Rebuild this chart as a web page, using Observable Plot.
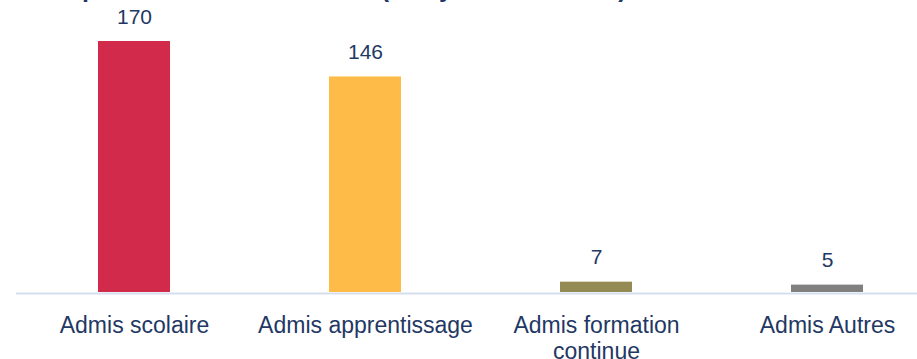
<!DOCTYPE html>
<html>
<head>
<meta charset="utf-8">
<script src="https://cdn.jsdelivr.net/npm/d3@7"></script>
<script src="https://cdn.jsdelivr.net/npm/@observablehq/plot@0.6"></script>
<style>
  html, body { margin: 0; padding: 0; background: #fff; overflow: hidden; }
  #wrap { position: relative; width: 917px; height: 359px; overflow: hidden; font-family: "Liberation Sans", Arial, sans-serif; }
  #title { position: absolute; left: 50px; top: -27px; font-size: 25px; line-height: 30px; font-weight: bold; color: #1f3864; white-space: nowrap; }
  #chart { position: absolute; left: 0; top: 0; }
</style>
</head>
<body>
<div id="wrap">
  <div id="title">Répartition des admis 2023 (analyse des filières)</div>
  <div id="chart"></div>
</div>
<script>
const categories = ["Admis scolaire", "Admis apprentissage", "Admis formation continue", "Admis Autres"];
const tickLabels = ["Admis scolaire", "Admis apprentissage", "Admis formation\ncontinue", "Admis Autres"];
const values = [170, 146, 7, 5];
const colors = ["#d12a4b", "#ffbb48", "#948a54", "#808080"];

const data = categories.map((c, i) => ({category: c, value: values[i], color: colors[i]}));
const labelOf = new Map(categories.map((c, i) => [c, tickLabels[i]]));

const chart = Plot.plot({
  width: 917,
  height: 359,
  marginTop: 41,
  marginBottom: 67,
  marginLeft: 16,
  marginRight: 0,
  style: {fontFamily: "'Liberation Sans', Arial, sans-serif", background: "transparent"},
  x: {domain: categories, paddingInner: 0.69, paddingOuter: 0.287, align: 0.6, axis: null},
  y: {domain: [0, 170], axis: null},
  marks: [
    Plot.barY(data, {x: "category", y: "value", fill: "color"}),
    Plot.ruleY([0], {stroke: "#d6dff0", strokeWidth: 2, dy: 1}),
    Plot.text(data, {x: "category", y: "value", text: d => String(d.value), dy: -18, lineAnchor: "bottom", fontSize: 21, fill: "#1f3864"}),
    Plot.axisX({tickSize: 0, tickPadding: 22, fontSize: 23, lineHeight: 1.12, color: "#1f3864", tickFormat: d => labelOf.get(d), label: null})
  ]
});
document.getElementById("chart").appendChild(chart);
</script>
</body>
</html>
